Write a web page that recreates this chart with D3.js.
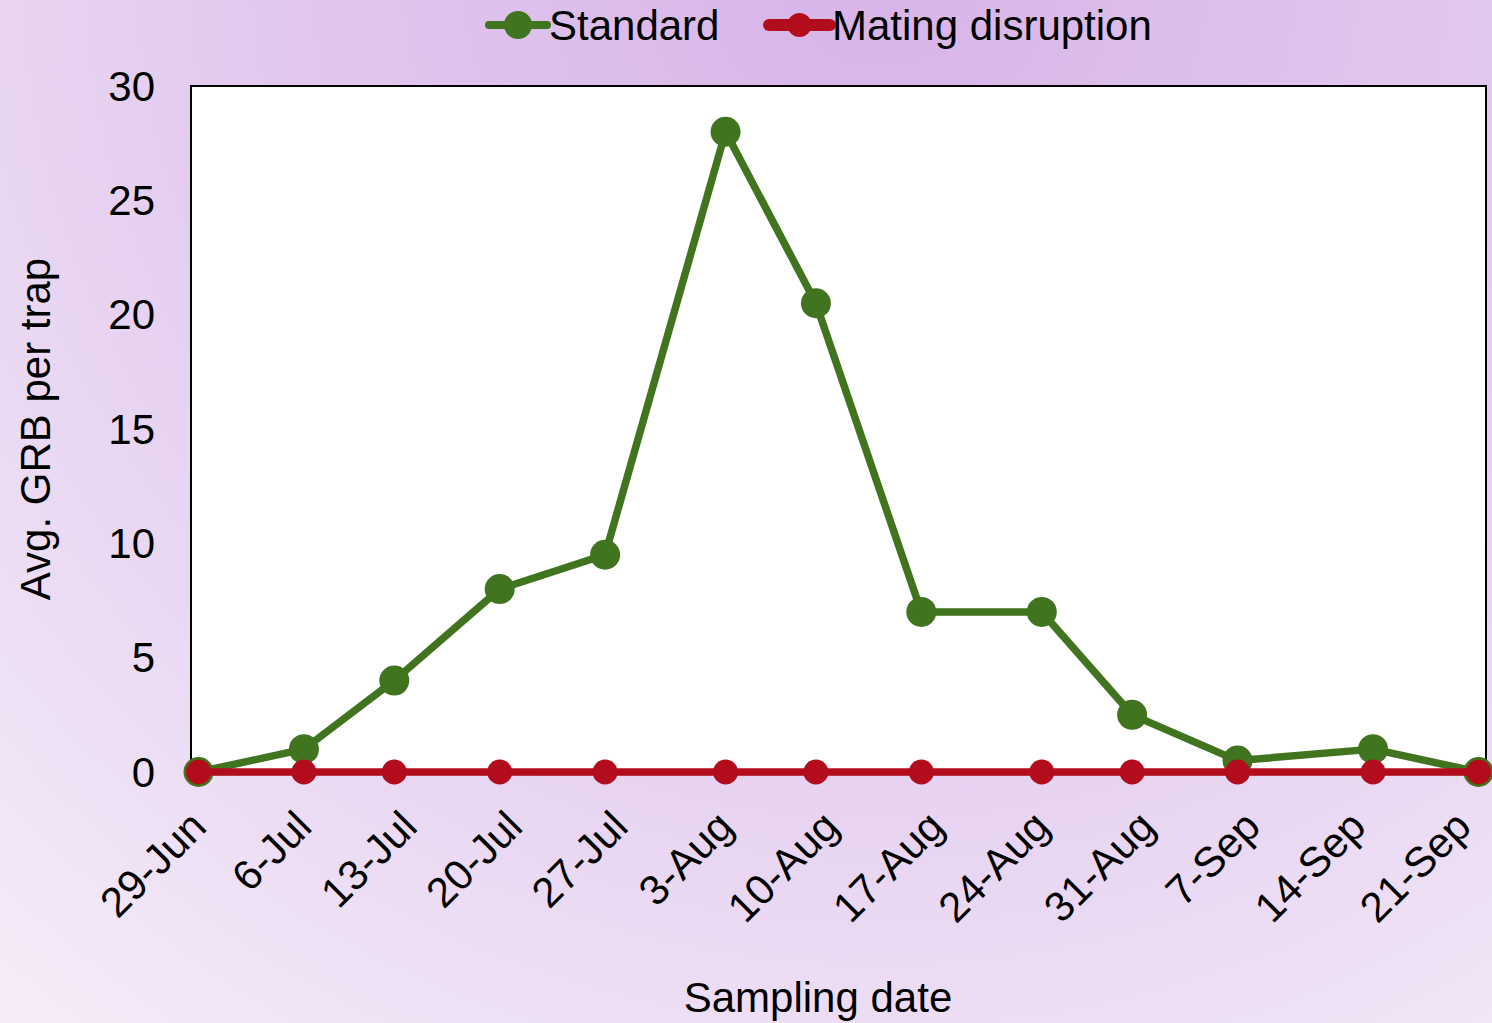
<!DOCTYPE html>
<html>
<head>
<meta charset="utf-8">
<script src="https://cdn.jsdelivr.net/npm/d3@7"></script>
<style>
  html, body { margin: 0; padding: 0; }
  body { width: 1492px; height: 1023px; overflow: hidden; }
  text { font-family: "Liberation Sans", Arial, sans-serif; fill: #000; }
</style>
</head>
<body>
<div id="chart"></div>
<script>
// sampling dates (trap checks) and average catch per trap
var sampleDates = ["2020-06-29", "2020-07-06", "2020-07-12", "2020-07-19", "2020-07-26", "2020-08-03",
                   "2020-08-09", "2020-08-16", "2020-08-24", "2020-08-30", "2020-09-06", "2020-09-15", "2020-09-22"];
var standard         = [0, 1, 4, 8, 9.5, 28, 20.5, 7, 7, 2.5, 0.5, 1, 0];
var matingDisruption = [0, 0, 0, 0, 0, 0, 0, 0, 0, 0, 0, 0, 0];
var seriesNames = ["Standard", "Mating disruption"];

// weekly axis labels
var tickLabels = ["29-Jun", "6-Jul", "13-Jul", "20-Jul", "27-Jul", "3-Aug", "10-Aug",
                  "17-Aug", "24-Aug", "31-Aug", "7-Sep", "14-Sep", "21-Sep"];
var yTicks = [0, 5, 10, 15, 20, 25, 30];

var W = 1492, H = 1023;
var plot = {left: 191, right: 1486, top: 86, bottom: 772};
var colors = {standard: "#41741f", md: "#b30d1d"};
var fs = 42;

var parseDay = d3.timeParse("%Y-%m-%d");
var parseTick = d3.timeParse("%d-%b-%Y");
var tickDates = tickLabels.map(function(t){ return parseTick(t + "-2020"); });

var x = d3.scaleTime()
    .domain([parseDay("2020-06-29"), parseDay("2020-09-23")])
    .range([plot.left, plot.right]);
var y = d3.scaleLinear().domain([0, 30]).range([plot.bottom, plot.top]);

var svg = d3.select("#chart").append("svg")
    .attr("width", W).attr("height", H);

// background gradient
var defs = svg.append("defs");
var grad = defs.append("radialGradient").attr("id", "bg")
    .attr("gradientUnits", "userSpaceOnUse")
    .attr("cx", 880).attr("cy", -40).attr("r", 1400);
grad.append("stop").attr("offset", "0%").attr("stop-color", "#d7b4e8");
grad.append("stop").attr("offset", "45%").attr("stop-color", "#e2c9ee");
grad.append("stop").attr("offset", "100%").attr("stop-color", "#f6eef9");
svg.append("rect").attr("width", W).attr("height", H).attr("fill", "url(#bg)");

// plot area
svg.append("rect")
    .attr("x", plot.left).attr("y", plot.top)
    .attr("width", plot.right - plot.left).attr("height", plot.bottom - plot.top)
    .attr("fill", "#fff");
svg.append("path")
    .attr("d", "M" + plot.left + "," + plot.bottom + "V" + plot.top + "H" + plot.right + "V" + plot.bottom)
    .attr("fill", "none").attr("stroke", "#000").attr("stroke-width", 2);

// x axis
var xAxis = d3.axisBottom(x)
    .tickValues(tickDates)
    .tickSize(6)
    .tickFormat(d3.timeFormat("%-d-%b"));
var gx = svg.append("g")
    .attr("transform", "translate(0," + (plot.bottom + 2) + ")")
    .call(xAxis);
gx.select(".domain").attr("stroke", "#a6a6a6").attr("stroke-width", 2);
gx.selectAll(".tick line").attr("stroke", "#dcdcdc").attr("stroke-width", 2);
gx.selectAll(".tick text")
    .attr("font-size", fs)
    .attr("text-anchor", "end")
    .attr("y", null).attr("dy", null)
    .attr("transform", "translate(17,55) rotate(-45)");

// y axis
var gy = svg.append("g")
    .attr("transform", "translate(" + plot.left + ",0)")
    .call(d3.axisLeft(y).tickValues(yTicks).tickSize(0).tickPadding(36));
gy.select(".domain").remove();
gy.selectAll(".tick text").attr("font-size", fs).attr("dy", "0.34em");

// axis titles
svg.append("text")
    .attr("x", 818).attr("y", 1012)
    .attr("text-anchor", "middle").attr("font-size", fs)
    .text("Sampling date");
svg.append("text")
    .attr("transform", "translate(50," + ((plot.top + plot.bottom) / 2) + ") rotate(-90)")
    .attr("text-anchor", "middle").attr("font-size", fs)
    .text("Avg. GRB per trap");

// series
var series = [
  {name: seriesNames[0], values: standard, color: colors.standard, r: 15},
  {name: seriesNames[1], values: matingDisruption, color: colors.md, r: 12.5}
];

var line = d3.line()
    .x(function(d){ return x(d.date); })
    .y(function(d){ return y(d.value); });

series.forEach(function(s) {
  var pts = sampleDates.map(function(d, i) {
    return {date: d3.timeHour.offset(parseDay(d), 12), value: s.values[i]};
  });
  var g = svg.append("g");
  g.append("path")
      .datum(pts)
      .attr("d", line)
      .attr("fill", "none")
      .attr("stroke", s.color)
      .attr("stroke-width", 7.5)
      .attr("stroke-linejoin", "round");
  g.selectAll("circle")
      .data(pts)
      .enter().append("circle")
      .attr("cx", function(d){ return x(d.date); })
      .attr("cy", function(d){ return y(d.value); })
      .attr("r", s.r)
      .attr("fill", s.color);
});

// legend
var legendItems = [
  {name: seriesNames[0], color: colors.standard, x1: 489, x2: 547, r: 14, w: 8},
  {name: seriesNames[1], color: colors.md, x1: 769, x2: 830, r: 12, w: 12}
];
var lg = svg.append("g").attr("transform", "translate(0,25)");
legendItems.forEach(function(d) {
  lg.append("line")
      .attr("x1", d.x1).attr("x2", d.x2)
      .attr("stroke", d.color).attr("stroke-width", d.w)
      .attr("stroke-linecap", "round");
  lg.append("circle")
      .attr("cx", (d.x1 + d.x2) / 2).attr("r", d.r)
      .attr("fill", d.color);
  lg.append("text")
      .attr("x", d.x2 + 2).attr("dy", "0.35em")
      .attr("font-size", fs)
      .text(d.name);
});
</script>
</body>
</html>
